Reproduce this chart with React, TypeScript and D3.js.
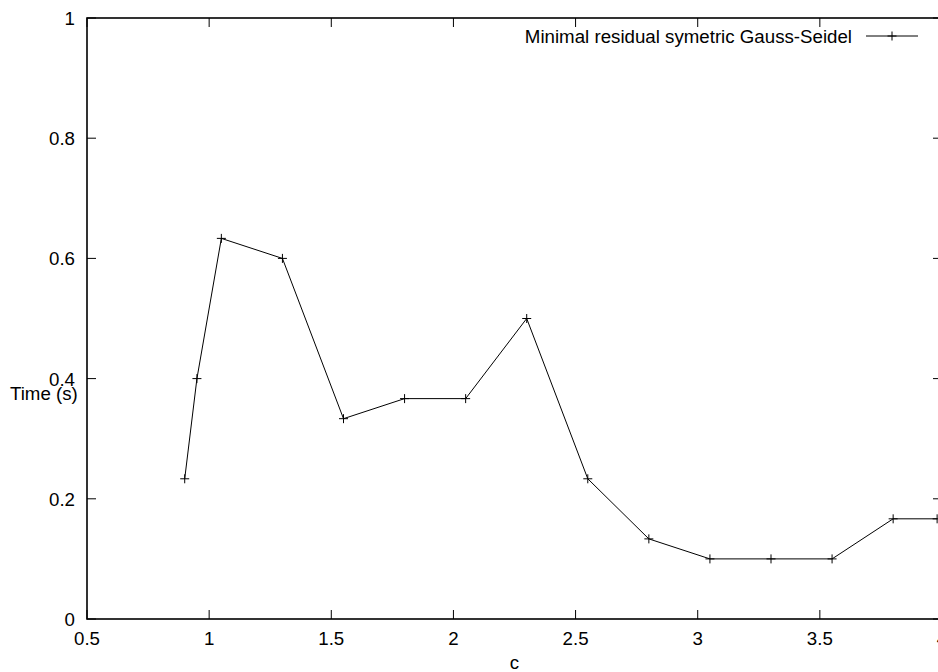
import React, { useEffect, useRef } from "react";
import * as d3 from "d3";

// c values and measured time (s)
const cValues = [0.9, 0.95, 1.05, 1.3, 1.55, 1.8, 2.05, 2.3, 2.55, 2.8, 3.05, 3.3, 3.55, 3.8, 3.98];
const timeValues = [0.2333, 0.4, 0.6333, 0.6, 0.3333, 0.3667, 0.3667, 0.5, 0.2333, 0.1333, 0.1, 0.1, 0.1, 0.1667, 0.1667];
const xTicks = [0.5, 1, 1.5, 2, 2.5, 3, 3.5, 4];
const yTicks = [0, 0.2, 0.4, 0.6, 0.8, 1];
const seriesLabel = "Minimal residual symetric Gauss-Seidel";

function App() {
  const ref = useRef<SVGSVGElement>(null);
  const width = 938;
  const height = 672;
  const margin = { top: 18, right: -4, bottom: 53, left: 87 };
  const font = "'Liberation Sans', Arial, Helvetica, sans-serif";

  useEffect(() => {
    const svg = d3.select(ref.current);
    svg.selectAll("*").remove();

    const x = d3.scaleLinear().domain([0.5, 4]).range([margin.left, width - margin.right]);
    const y = d3.scaleLinear().domain([0, 1]).range([height - margin.bottom, margin.top]);
    const tick = 9;

    const g = svg.append("g");

    // ticks on all four sides, pointing inward
    xTicks.forEach((t) => {
      g.append("line").attr("x1", x(t)).attr("x2", x(t))
        .attr("y1", y(0)).attr("y2", y(0) - tick).attr("stroke", "black");
      g.append("line").attr("x1", x(t)).attr("x2", x(t))
        .attr("y1", y(1)).attr("y2", y(1) + tick).attr("stroke", "black");
      g.append("text").attr("x", x(t)).attr("y", y(0) + 26)
        .attr("text-anchor", "middle").text(d3.format("")(t));
    });
    yTicks.forEach((t) => {
      g.append("line").attr("x1", x(0.5)).attr("x2", x(0.5) + tick)
        .attr("y1", y(t)).attr("y2", y(t)).attr("stroke", "black");
      g.append("line").attr("x1", x(4)).attr("x2", x(4) - tick)
        .attr("y1", y(t)).attr("y2", y(t)).attr("stroke", "black");
      g.append("text").attr("x", x(0.5) - 12).attr("y", y(t) + 7)
        .attr("text-anchor", "end").text(d3.format("")(t));
    });

    // border
    g.append("rect")
      .attr("x", x(0.5)).attr("y", y(1))
      .attr("width", x(4) - x(0.5)).attr("height", y(0) - y(1))
      .attr("fill", "none").attr("stroke", "black").attr("stroke-width", 1.6);

    // axis labels
    g.append("text").attr("x", 10).attr("y", 400).text("Time (s)");
    g.append("text").attr("x", (x(0.5) + x(4)) / 2).attr("y", 669)
      .attr("text-anchor", "middle").text("c");

    const pts: [number, number][] = cValues.map((c, i) => [c, timeValues[i]]);
    const line = d3.line<[number, number]>().x((d) => x(d[0])).y((d) => y(d[1]));

    g.append("path").datum(pts).attr("d", line)
      .attr("fill", "none").attr("stroke", "black").attr("stroke-width", 1);

    const plus = (px: number, py: number) => {
      const s = 4.5;
      g.append("path")
        .attr("d", `M${px - s},${py}H${px + s}M${px},${py - s}V${py + s}`)
        .attr("stroke", "black").attr("stroke-width", 1);
    };
    pts.forEach((d) => plus(x(d[0]), y(d[1])));

    // key
    g.append("text").attr("x", 852).attr("y", 43)
      .attr("text-anchor", "end").text(seriesLabel);
    g.append("line").attr("x1", 866).attr("x2", 918).attr("y1", 36).attr("y2", 36)
      .attr("stroke", "black");
    plus(892, 36);

    svg.selectAll("text").attr("font-family", font).attr("font-size", 18.7).attr("fill", "black");
  });

  return (
    <div style={{ position: "absolute", left: 0, top: 0 }}>
      <svg ref={ref} width={width} height={height} style={{ display: "block", background: "white" }} />
    </div>
  );
}

export default App;
